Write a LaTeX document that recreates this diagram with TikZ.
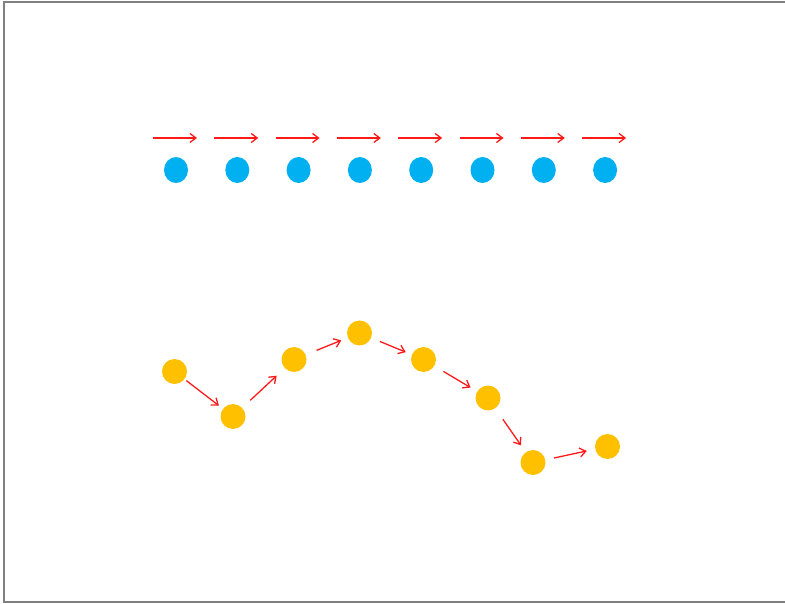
\documentclass[tikz,border=0pt]{standalone}
\usetikzlibrary{arrows.meta,shapes.geometric}
\definecolor{dotblue}{HTML}{00B0F0}
\definecolor{dotorange}{HTML}{FFC000}
\definecolor{arrred}{HTML}{FF1A1A}
\definecolor{framegray}{HTML}{808080}
\tikzset{
  bluedot/.style={ellipse, fill=dotblue, inner sep=0pt, outer sep=0pt, minimum width=24pt, minimum height=26pt},
  orangedot/.style={circle, fill=dotorange, inner sep=0pt, outer sep=0pt, minimum size=25pt},
  redarrow/.style={draw=arrred, line width=1.3pt, -{Straight Barb[length=6pt,width=9pt]}},
}
\begin{document}
\begin{tikzpicture}[x=1pt,y=-1pt]
\useasboundingbox (0,0) rectangle (785,604);
\draw[framegray, line width=2pt] (4,2) rectangle (792,602);
% top row
\foreach \i in {1,...,8} {
  \pgfmathsetmacro{\cx}{176+61.3*(\i-1)}
  \node[bluedot] (b\i) at (\cx,170) {};
  \coordinate (ts\i) at (\cx-23,138);
  \coordinate (te\i) at (\cx+21,138);
  \draw[redarrow] (ts\i) -- (te\i);
}
% bottom path
\node[orangedot] (o1) at (174.5,371.5) {};
\node[orangedot] (o2) at (233,416.5) {};
\node[orangedot] (o3) at (294,359.5) {};
\node[orangedot] (o4) at (359.5,333) {};
\node[orangedot] (o5) at (423.5,359.5) {};
\node[orangedot] (o6) at (488,398) {};
\node[orangedot] (o7) at (533,462.5) {};
\node[orangedot] (o8) at (607.5,446.5) {};
\draw[redarrow, shorten <=2.4pt, shorten >=5.2pt] (o1) -- (o2);
\draw[redarrow, shorten <=11.2pt, shorten >=11.2pt] (o2) -- (o3);
\draw[redarrow, shorten <=11.8pt, shorten >=7.1pt] (o3) -- (o4);
\draw[redarrow, shorten <=9.5pt, shorten >=6.7pt] (o4) -- (o5);
\draw[redarrow, shorten <=10.7pt, shorten >=7.8pt] (o5) -- (o6);
\draw[redarrow, shorten <=13.4pt, shorten >=8.4pt] (o6) -- (o7);
\draw[redarrow, shorten <=8.9pt, shorten >=8.7pt] (o7) -- (o8);
\end{tikzpicture}
\end{document}
